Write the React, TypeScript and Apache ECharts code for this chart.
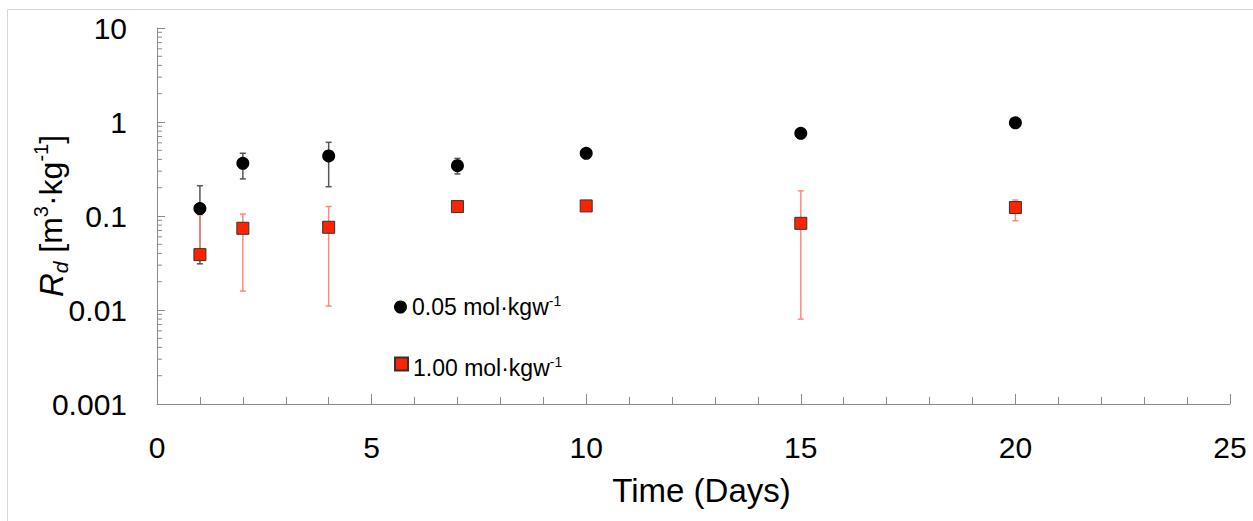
import React, { useEffect, useRef } from "react";
import * as echarts from "echarts";

// ---- data ----
const days = [1, 2, 4, 7, 10, 15, 20];
const seriesNames = ["0.05 mol·kgw-1", "1.00 mol·kgw-1"];
// 0.05 mol/kgw
const rdLow = [0.12, 0.363, 0.435, 0.343, 0.465, 0.757, 0.98];
const rdLowErrMin = [0.031, 0.248, 0.205, 0.28, null, null, null];
const rdLowErrMax = [0.21, 0.465, 0.608, 0.41, null, null, null];
// 1.00 mol/kgw
const rdHigh = [0.0388, 0.074, 0.0759, 0.126, 0.128, 0.0836, 0.123];
const rdHighErrMin = [0.035, 0.0159, 0.011, null, null, 0.008, 0.089];
const rdHighErrMax = [0.103, 0.105, 0.126, null, null, 0.185, 0.148];

const xTickLabels = ["0", "5", "10", "15", "20", "25"];
const yTickLabels = ["0.001", "0.01", "0.1", "1", "10"];
const yDecades = [0.001, 0.01, 0.1, 1];
const yMinorMultipliers = [2, 3, 4, 5, 6, 7, 8, 9];

const FONT = "Liberation Sans, Arial, Helvetica, sans-serif";

function errData(mins: (number | null)[], maxs: (number | null)[]) {
  const out: number[][] = [];
  days.forEach((d, i) => {
    const lo = mins[i];
    const hi = maxs[i];
    if (lo != null && hi != null) out.push([d, lo, hi]);
  });
  return out;
}

function errRender(color: string) {
  return (params: any, api: any) => {
    const x = api.value(0);
    const p1 = api.coord([x, api.value(1)]);
    const p2 = api.coord([x, api.value(2)]);
    const w = 3;
    const style = { stroke: color, lineWidth: 1.5 };
    return {
      type: "group",
      children: [
        { type: "line", shape: { x1: p1[0], y1: p1[1], x2: p2[0], y2: p2[1] }, style },
        { type: "line", shape: { x1: p1[0] - w, y1: p1[1], x2: p1[0] + w, y2: p1[1] }, style },
        { type: "line", shape: { x1: p2[0] - w, y1: p2[1], x2: p2[0] + w, y2: p2[1] }, style },
      ],
    };
  };
}

export default function App() {
  const ref = useRef<HTMLDivElement>(null);
  useEffect(() => {
    if (!ref.current) return;
    const chart = echarts.init(ref.current, undefined, { renderer: "svg" });

    const minorTicks: number[][] = [];
    yDecades.forEach((d) => yMinorMultipliers.forEach((m) => minorTicks.push([0, d * m])));

    const legendFmt = (name: string) => `{t|${name.replace("-1", "")}}{s|-1}`;
    const legendText = {
      fontFamily: FONT,
      color: "#000",
      rich: {
        t: { fontSize: 23, fontFamily: FONT, color: "#000", lineHeight: 26 },
        s: { fontSize: 14, fontFamily: FONT, color: "#000", verticalAlign: "top", lineHeight: 26 },
      },
    };

    chart.setOption({
      animation: false,
      backgroundColor: "#fff",
      grid: { left: 157, right: 23, top: 28, bottom: 117, containLabel: false, outerBoundsMode: "none" },
      graphic: [
        { type: "line", shape: { x1: 7.5, y1: 9.5, x2: 1253, y2: 9.5 }, style: { stroke: "#d6d6d6", lineWidth: 1 } },
        { type: "line", shape: { x1: 7.5, y1: 9.5, x2: 7.5, y2: 521 }, style: { stroke: "#d6d6d6", lineWidth: 1 } },
      ],
      legend: [
        {
          data: [{ name: seriesNames[0], icon: "circle" }],
          left: 389,
          top: 289,
          itemWidth: 13,
          itemHeight: 13,
          itemGap: 4,
          formatter: legendFmt,
          textStyle: legendText,
          selectedMode: false,
        },
        {
          data: [{ name: seriesNames[1], icon: "rect" }],
          left: 389,
          top: 350,
          itemWidth: 13,
          itemHeight: 13,
          formatter: legendFmt,
          textStyle: { ...legendText, padding: [8, 0, 0, 0] },
          selectedMode: false,
        },
      ],
      xAxis: {
        type: "value",
        min: 0,
        max: 25,
        interval: 5,
        name: "Time (Days)",
        nameLocation: "middle",
        nameGap: 70,
        nameTextStyle: { fontFamily: FONT, fontSize: 33, color: "#000", verticalAlign: "top", padding: [0, 0, 0, 16] },
        axisLine: { show: true, onZero: false, lineStyle: { color: "#8a8a8a", width: 1 } },
        axisTick: { show: true, inside: true, length: 10, lineStyle: { color: "#8a8a8a" } },
        minorTick: { show: true, splitNumber: 5, length: 7, lineStyle: { color: "#8a8a8a" } },
        splitLine: { show: false },
        axisLabel: {
          fontFamily: FONT,
          fontSize: 30,
          color: "#000",
          margin: 28,
          formatter: (_v: number, i: number) => xTickLabels[i] ?? "",
        },
      },
      yAxis: {
        type: "log",
        logBase: 10,
        min: 0.001,
        max: 10,
        name: "{i|R}{sub|d}{t| [m}{sup|3}{t|·kg}{sup|-1}{t|]}",
        nameLocation: "middle",
        nameRotate: 90,
        nameGap: 86,
        nameMoveOverlap: false,
        nameTextStyle: {
          fontFamily: FONT,
          fontSize: 32,
          color: "#000",
          rich: {
            i: { fontFamily: FONT, fontSize: 33, fontStyle: "italic", color: "#000", lineHeight: 40 },
            sub: { fontFamily: FONT, fontSize: 21, fontStyle: "italic", color: "#000", verticalAlign: "bottom", lineHeight: 40 },
            t: { fontFamily: FONT, fontSize: 32, color: "#000", lineHeight: 40 },
            sup: { fontFamily: FONT, fontSize: 20, color: "#000", verticalAlign: "top", lineHeight: 40 },
          },
        },
        axisLine: { show: true, lineStyle: { color: "#8a8a8a", width: 1 } },
        axisTick: { show: true, inside: true, length: 8, lineStyle: { color: "#8a8a8a" } },
        splitLine: { show: false },
        axisLabel: {
          fontFamily: FONT,
          fontSize: 30,
          color: "#000",
          margin: 30,
          formatter: (_v: number, i: number) => yTickLabels[i] ?? "",
        },
      },
      series: [
        {
          type: "custom",
          silent: true,
          data: minorTicks,
          clip: false,
          z: 1,
          renderItem: (params: any, api: any) => {
            const p = api.coord([api.value(0), api.value(1)]);
            return {
              type: "line",
              shape: { x1: p[0], y1: p[1], x2: p[0] + 5, y2: p[1] },
              style: { stroke: "#8a8a8a", lineWidth: 1 },
            };
          },
        },
        {
          type: "custom",
          silent: true,
          data: errData(rdLowErrMin, rdLowErrMax),
          z: 2,
          renderItem: errRender("#555555"),
        },
        {
          type: "custom",
          silent: true,
          data: errData(rdHighErrMin, rdHighErrMax),
          z: 3,
          renderItem: errRender("#ff8a7a"),
        },
        {
          name: seriesNames[0],
          type: "scatter",
          symbol: "circle",
          symbolSize: 13,
          z: 5,
          itemStyle: { color: "#000000", opacity: 1 },
          data: days.map((d, i) => [d, rdLow[i]]),
        },
        {
          name: seriesNames[1],
          type: "scatter",
          symbol: "rect",
          symbolSize: 12,
          z: 6,
          itemStyle: { color: "#ff2300", borderColor: "#333333", borderWidth: 1, opacity: 1 },
          data: days.map((d, i) => [d, rdHigh[i]]),
        },
      ],
    });
    return () => chart.dispose();
  }, []);
  return (
    <div
      ref={ref}
      style={{ position: "absolute", left: 0, top: 0, width: 1253, height: 521 }}
    />
  );
}
